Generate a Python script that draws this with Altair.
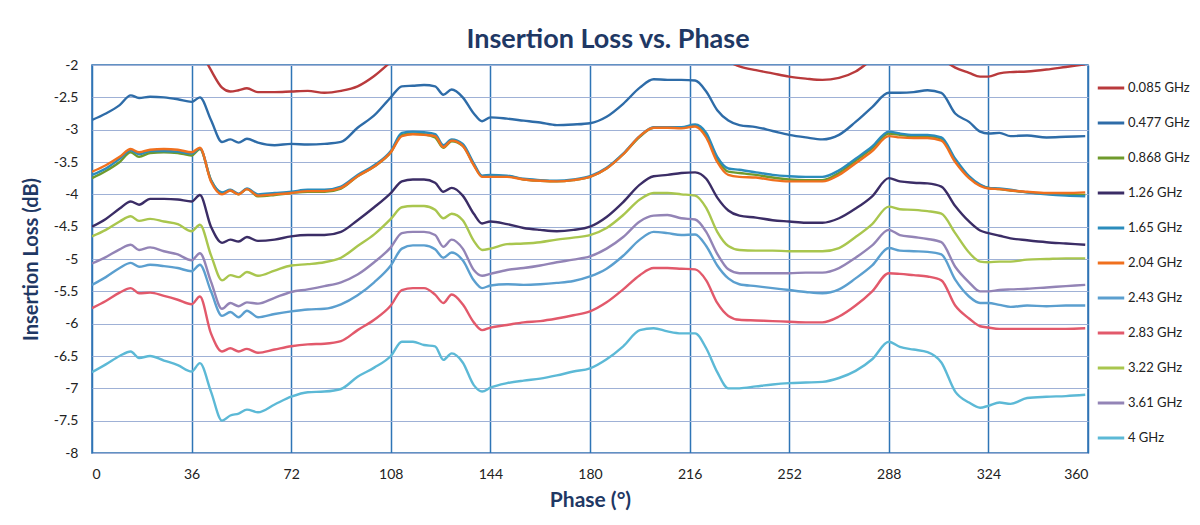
import altair as alt
import pandas as pd

PHASE = [0, 5, 10, 14, 17, 21, 26, 31, 36, 39, 43, 47, 50, 53, 56, 60, 66, 72, 78, 84,
         90, 96, 102, 108, 112, 116, 120, 124, 127, 130, 134, 138, 141, 144, 150, 156, 162, 168, 174, 180,
         186, 192, 198, 203, 208, 213, 218, 222, 226, 230, 234, 240, 246, 252, 258, 264, 270, 276, 282, 288,
         292, 297, 302, 307, 312, 317, 321, 324, 328, 332, 338, 345, 352, 359]

N = None
F_0085 = [N, N, N, N, N, N, N, N, N, -1.75, -2.08, -2.35, -2.41, -2.39, -2.36, -2.42, -2.42, -2.41, -2.4, -2.43,
          -2.4, -2.33, -2.17, -1.95, -1.8, N, N, N, N, N, N, N, N, N, N, N, N, N, N, N,
          N, N, N, N, N, N, N, N, N, -1.95, -2.02, -2.08, -2.13, -2.18, -2.21, -2.23, -2.2, -2.1, -1.92, -1.8,
          N, N, N, -1.9, -2.04, -2.12, -2.18, -2.18, -2.13, -2.11, -2.1, -2.07, -2.03, -1.99]
F_0477 = [-2.85, -2.75, -2.62, -2.47, -2.51, -2.49, -2.5, -2.53, -2.57, -2.5, -2.85, -3.19, -3.15, -3.2, -3.14, -3.2, -3.24, -3.22, -3.23, -3.22,
          -3.19, -2.97, -2.78, -2.5, -2.33, -2.32, -2.31, -2.33, -2.46, -2.38, -2.5, -2.75, -2.87, -2.81, -2.83, -2.86, -2.89, -2.93, -2.92, -2.9,
          -2.8, -2.6, -2.35, -2.22, -2.23, -2.23, -2.24, -2.41, -2.7, -2.86, -2.93, -2.96, -3.02, -3.08, -3.12, -3.15, -3.08, -2.88, -2.65, -2.43,
          -2.43, -2.42, -2.39, -2.43, -2.75, -2.88, -3.03, -3.06, -3.05, -3.1, -3.09, -3.12, -3.11, -3.1]
F_0868 = [-3.75, -3.64, -3.5, -3.35, -3.42, -3.36, -3.35, -3.36, -3.4, -3.3, -3.78, -3.98, -3.94, -4.0, -3.92, -4.03, -4.01, -3.98, -3.96, -3.96,
          -3.91, -3.72, -3.57, -3.35, -3.08, -3.06, -3.07, -3.12, -3.28, -3.18, -3.25, -3.54, -3.72, -3.72, -3.72, -3.77, -3.79, -3.8, -3.78, -3.73,
          -3.6, -3.38, -3.11, -2.97, -2.97, -2.97, -2.94, -3.08, -3.45, -3.65, -3.67, -3.7, -3.74, -3.77, -3.78, -3.78, -3.67, -3.48, -3.29, -3.06,
          -3.08, -3.1, -3.1, -3.14, -3.47, -3.73, -3.86, -3.9, -3.92, -3.94, -3.97, -3.99, -4.0, -4.01]
F_126 = [-4.5, -4.38, -4.22, -4.11, -4.16, -4.07, -4.07, -4.08, -4.11, -4.01, -4.5, -4.75, -4.7, -4.73, -4.66, -4.72, -4.7, -4.65, -4.63, -4.63,
         -4.58, -4.4, -4.2, -3.98, -3.8, -3.77, -3.77, -3.82, -3.96, -3.9, -4.02, -4.3, -4.45, -4.42, -4.46, -4.52, -4.55, -4.57, -4.55, -4.5,
         -4.35, -4.12, -3.85, -3.72, -3.7, -3.67, -3.66, -3.76, -4.05, -4.25, -4.33, -4.36, -4.4, -4.42, -4.44, -4.44, -4.37, -4.22, -4.03, -3.75,
         -3.8, -3.82, -3.83, -3.88, -4.18, -4.42, -4.56, -4.6, -4.64, -4.68, -4.71, -4.74, -4.76, -4.78]
F_165 = [-3.7, -3.6, -3.45, -3.32, -3.38, -3.33, -3.33, -3.34, -3.37, -3.29, -3.78, -3.97, -3.93, -3.99, -3.91, -4.0, -3.98, -3.96, -3.93, -3.93,
         -3.88, -3.7, -3.55, -3.33, -3.05, -3.03, -3.04, -3.07, -3.24, -3.15, -3.22, -3.52, -3.71, -3.7, -3.71, -3.76, -3.78, -3.79, -3.77, -3.72,
         -3.59, -3.37, -3.1, -2.96, -2.96, -2.96, -2.92, -3.05, -3.42, -3.6, -3.62, -3.66, -3.7, -3.72, -3.73, -3.73, -3.63, -3.45, -3.26, -3.03,
         -3.06, -3.08, -3.08, -3.12, -3.45, -3.72, -3.85, -3.9, -3.91, -3.93, -3.97, -4.0, -4.02, -4.03]
F_204 = [-3.65, -3.55, -3.42, -3.3, -3.35, -3.31, -3.3, -3.31, -3.35, -3.28, -3.8, -4.0, -3.94, -4.0, -3.92, -4.02, -4.0, -3.98, -3.95, -3.95,
         -3.9, -3.72, -3.57, -3.35, -3.1, -3.07, -3.08, -3.1, -3.27, -3.17, -3.25, -3.55, -3.73, -3.73, -3.73, -3.77, -3.79, -3.8, -3.78, -3.73,
         -3.6, -3.38, -3.1, -2.97, -2.97, -2.98, -2.95, -3.12, -3.5, -3.7, -3.73, -3.74, -3.78, -3.8, -3.8, -3.8, -3.7, -3.52, -3.33, -3.1,
         -3.12, -3.13, -3.13, -3.17, -3.5, -3.75, -3.87, -3.91, -3.92, -3.94, -3.96, -3.98, -3.98, -3.97]
F_243 = [-5.4, -5.28, -5.14, -5.06, -5.12, -5.09, -5.11, -5.14, -5.19, -5.09, -5.5, -5.88, -5.82, -5.9, -5.8, -5.9, -5.85, -5.81, -5.78, -5.77,
         -5.7, -5.56, -5.36, -5.1, -4.84, -4.79, -4.79, -4.85, -4.98, -4.9, -5.02, -5.33, -5.45, -5.41, -5.39, -5.4, -5.39, -5.37, -5.34, -5.27,
         -5.15, -4.95, -4.7, -4.58, -4.6, -4.63, -4.62, -4.8, -5.1, -5.3, -5.39, -5.42, -5.45, -5.48, -5.51, -5.53, -5.47, -5.3, -5.1, -4.83,
         -4.87, -4.88, -4.89, -4.93, -5.32, -5.58, -5.68, -5.68, -5.71, -5.74, -5.72, -5.73, -5.72, -5.72]
F_283 = [-5.76, -5.65, -5.52, -5.45, -5.53, -5.52, -5.57, -5.63, -5.7, -5.58, -6.15, -6.43, -6.38, -6.43, -6.39, -6.45, -6.4, -6.35, -6.32, -6.31,
         -6.27, -6.1, -5.94, -5.72, -5.48, -5.45, -5.45, -5.55, -5.68, -5.55, -5.7, -5.98, -6.1, -6.06, -6.02, -5.98, -5.96, -5.92, -5.87, -5.81,
         -5.67, -5.47, -5.25, -5.14, -5.14, -5.15, -5.16, -5.33, -5.68, -5.88, -5.94, -5.95, -5.96, -5.97, -5.98, -5.98, -5.89, -5.72, -5.5, -5.22,
         -5.23, -5.25, -5.27, -5.33, -5.72, -5.92, -6.04, -6.06, -6.08, -6.08, -6.08, -6.08, -6.08, -6.07]
F_322 = [-4.65, -4.55, -4.42, -4.34, -4.41, -4.38, -4.42, -4.46, -4.57, -4.47, -4.94, -5.33, -5.25, -5.28, -5.2, -5.26, -5.18, -5.1, -5.08, -5.05,
         -4.98, -4.8, -4.62, -4.38, -4.2, -4.18, -4.18, -4.24, -4.37, -4.3, -4.4, -4.72, -4.86, -4.84, -4.77, -4.76, -4.74, -4.7, -4.67, -4.63,
         -4.52, -4.32, -4.08, -3.98, -3.98, -4.0, -4.02, -4.21, -4.58, -4.8, -4.86, -4.87, -4.87, -4.88, -4.88, -4.88, -4.83, -4.66, -4.46, -4.19,
         -4.23, -4.24, -4.26, -4.3, -4.6, -4.9, -5.04, -5.05, -5.04, -5.04, -5.01, -5.0, -4.99, -4.99]
F_361 = [-5.07, -4.97, -4.85, -4.78, -4.86, -4.82, -4.88, -4.93, -5.02, -4.91, -5.35, -5.77, -5.68, -5.73, -5.67, -5.69, -5.6, -5.51, -5.47, -5.42,
         -5.36, -5.24, -5.05, -4.82, -4.6, -4.58, -4.58, -4.63, -4.81, -4.7, -4.84, -5.17, -5.26, -5.23, -5.17, -5.14, -5.1, -5.05, -5.01, -4.96,
         -4.84, -4.66, -4.42, -4.33, -4.32, -4.37, -4.39, -4.58, -4.92, -5.16, -5.22, -5.22, -5.22, -5.22, -5.21, -5.21, -5.14, -4.98, -4.79, -4.55,
         -4.63, -4.66, -4.69, -4.74, -5.12, -5.36, -5.5, -5.5, -5.48, -5.47, -5.46, -5.44, -5.42, -5.4]
F_400 = [-6.75, -6.63, -6.5, -6.43, -6.53, -6.5, -6.57, -6.64, -6.74, -6.61, -7.05, -7.5, -7.42, -7.39, -7.33, -7.37, -7.25, -7.13, -7.06, -7.05,
         -7.01, -6.82, -6.68, -6.5, -6.28, -6.28, -6.33, -6.35, -6.56, -6.46, -6.6, -6.95, -7.05, -6.99, -6.92, -6.88, -6.85, -6.8, -6.74, -6.69,
         -6.55, -6.35, -6.1, -6.07, -6.12, -6.15, -6.15, -6.38, -6.75, -7.0, -7.0, -6.97, -6.94, -6.92, -6.91, -6.9, -6.84, -6.73, -6.55, -6.28,
         -6.36, -6.4, -6.44, -6.6, -7.05, -7.22, -7.3, -7.27, -7.22, -7.24, -7.15, -7.13, -7.12, -7.1]

SERIES = ["0.085 GHz", "0.477 GHz", "0.868 GHz", "1.26 GHz", "1.65 GHz", "2.04 GHz",
          "2.43 GHz", "2.83 GHz", "3.22 GHz", "3.61 GHz", "4 GHz"]
VALUES = [F_0085, F_0477, F_0868, F_126, F_165, F_204, F_243, F_283, F_322, F_361, F_400]
COLORS = ["#b93a3c", "#2e6ca8", "#6f9a2c", "#3b2d66", "#2b8cbc", "#f0701e",
          "#5b9fcf", "#e2596b", "#a9c64e", "#9384b6", "#5cb9d6"]
Y_TICKS = [-8, -7.5, -7, -6.5, -6, -5.5, -5, -4.5, -4, -3.5, -3, -2.5, -2]
X_TICKS = [0, 36, 72, 108, 144, 180, 216, 252, 288, 324, 360]

rows = []
for si, (name, vals) in enumerate(zip(SERIES, VALUES)):
    for p, v in zip(PHASE, vals):
        rows.append({"freq": name, "order": si, "phase": p, "loss": v})
df = pd.DataFrame(rows)

FONT = "Lato"
NAVY = "#1f3864"

lines = alt.Chart(df).mark_line(strokeWidth=2.4, clip=True, interpolate="monotone").encode(
    x=alt.X("phase:Q", scale=alt.Scale(domain=[0, 360], nice=False),
            axis=alt.Axis(values=X_TICKS, title="Phase (°)", grid=True, gridColor="#2e75b6",
                          gridWidth=1.5, ticks=False, domain=False, labelPadding=14,
                          titlePadding=8, titleFontSize=21)),
    y=alt.Y("loss:Q", scale=alt.Scale(domain=[-8, -2], nice=False, zero=False),
            axis=alt.Axis(values=Y_TICKS, title="Insertion Loss (dB)", grid=True, gridColor="#9fb1d6",
                          gridWidth=1, ticks=False, domain=False, labelPadding=14,
                          labelExpr="datum.value < 0 ? '-' + format(-datum.value, '~g') : format(datum.value, '~g')",
                          titlePadding=12, titleFontSize=20)),
    color=alt.Color("freq:N", scale=alt.Scale(domain=SERIES, range=COLORS),
                    legend=alt.Legend(title=None, orient="none", legendX=1004, legendY=8,
                                      symbolType="stroke", symbolSize=700, symbolStrokeWidth=3,
                                      labelFontSize=13, labelFont=FONT, labelColor="#222222",
                                      rowPadding=13, labelOffset=2)),
    detail="freq:N",
    order=alt.Order("order:Q"),
)

chart = lines.properties(
    width=996, height=388,
    title=alt.TitleParams("Insertion Loss vs. Phase", fontSize=27, font=FONT, fontWeight="bold",
                          color=NAVY, anchor="middle", offset=4, dx=18),
    padding={"left": 84, "top": 57, "right": 104, "bottom": 60},
    autosize=alt.AutoSizeParams(type="none"),
).configure_view(
    stroke="#2e6fb0", strokeWidth=1.5
).configure_axis(
    labelFont=FONT, labelFontSize=14, labelColor="#222222",
    titleFont=FONT, titleColor=NAVY, titleFontWeight="bold"
)

chart.save("out.html", embed_options={"renderer": "svg", "actions": False})
